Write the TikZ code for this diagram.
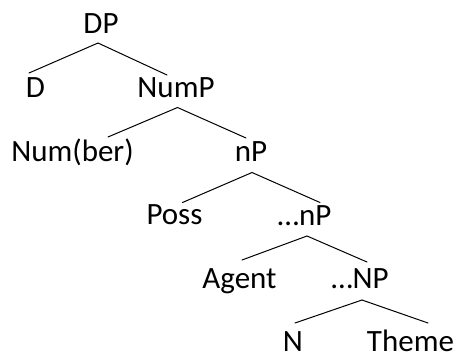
\documentclass[tikz,border=0pt]{standalone}
\usepackage{fontspec}
\setmainfont{Carlito}
\begin{document}
\begin{tikzpicture}[x=1pt,y=-1pt,
  lbl/.style={inner sep=0pt,anchor=base,font=\fontsize{31}{36}\selectfont},
  edge/.style={line width=1pt,line cap=round}]
\useasboundingbox (0,0) rectangle (456,354);
% labels
\node[lbl] (DP) at (101,33) {DP};
\node[lbl] (D) at (35.5,97) {D};
\node[lbl] (NumP) at (176,97) {NumP};
\node[lbl] (Num) at (72.5,161) {Num(ber)};
\node[lbl] (nP) at (251,161.5) {nP};
\node[lbl] (Poss) at (174.5,224.5) {Poss};
\node[lbl] (nP2) at (304.5,225) {…nP};
\node[lbl] (Agent) at (239.5,288) {Agent};
\node[lbl] (NP) at (360,288) {…NP};
\node[lbl] (N) at (293,351) {N};
\node[lbl] (Theme) at (410.5,351) {Theme};
% branch points
\coordinate (DPa) at (98,43);
\coordinate (Da) at (29,73);
\coordinate (NumPb) at (167,75);
\coordinate (NumPa) at (177.5,107.5);
\coordinate (Numb) at (108,137);
\coordinate (nPb) at (246,138);
\coordinate (nPa) at (252,172.5);
\coordinate (Possb) at (182.5,202.5);
\coordinate (nPtwob) at (320,202.5);
\coordinate (nPtwoa) at (307,236);
\coordinate (Agentb) at (242,260);
\coordinate (NPb) at (367,262);
\coordinate (NPa) at (362,300);
\coordinate (Nb) at (295,323);
\coordinate (Themeb) at (428,323);
% edges
\draw[edge] (Da) -- (DPa) -- (NumPb);
\draw[edge] (Numb) -- (NumPa) -- (nPb);
\draw[edge] (Possb) -- (nPa) -- (nPtwob);
\draw[edge] (Agentb) -- (nPtwoa) -- (NPb);
\draw[edge] (Nb) -- (NPa) -- (Themeb);
\end{tikzpicture}
\end{document}
